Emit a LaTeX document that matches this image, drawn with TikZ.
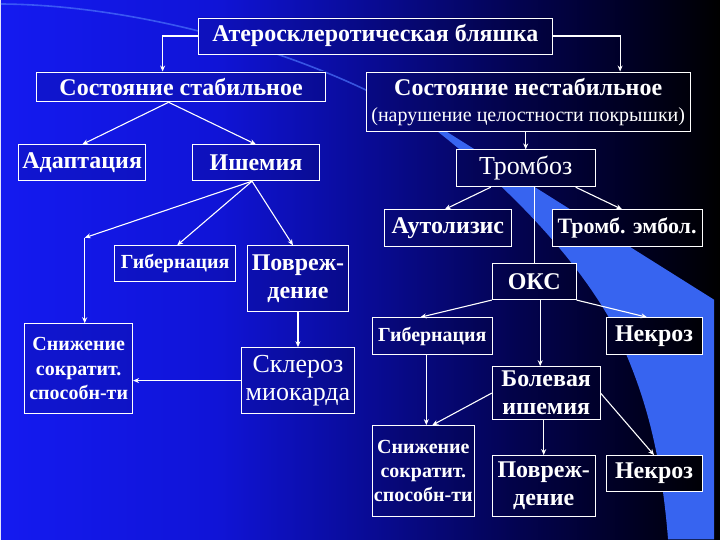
\documentclass[tikz,border=0pt]{standalone}
\usepackage{fontspec}
\setmainfont{Liberation Serif}
\usetikzlibrary{arrows.meta,shapes}
\definecolor{slideA}{RGB}{20,26,240}
\definecolor{slideB}{RGB}{16,20,215}
\definecolor{slideC}{RGB}{8,10,140}
\definecolor{slideD}{RGB}{3,3,80}
\definecolor{slideE}{RGB}{0,0,35}
\definecolor{band}{RGB}{55,100,240}
\definecolor{arcline}{RGB}{75,115,250}
\pgfdeclarehorizontalshading{slide}{100bp}{color(0bp)=(slideA); color(25bp)=(slideA); color(40bp)=(slideB); color(52bp)=(slideC); color(61bp)=(slideD); color(69bp)=(slideE); color(75bp)=(black); color(100bp)=(black)}
\tikzset{
    box/.style = {draw=white, line width=0.8pt, text=white, align=center, inner sep=0pt,
        font=\bfseries\fontsize{24}{28}\selectfont,
        path picture={\shade[shading=slide] (slide sw) rectangle (slide ne);
            \fill[black, opacity=.12] (slide sw) rectangle (slide ne);}},
    small/.style = {font=\bfseries\fontsize{20}{24.5}\selectfont},
    light/.style = {font=\mdseries\fontsize{26}{28}\selectfont},
    link/.style = {draw=white, line width=1.1pt, -{Stealth[length=6pt,width=5pt]}},
    plain/.style = {draw=white, line width=1.1pt}
}
\begin{document}
\begin{tikzpicture}[x=1pt,y=-1pt]
    % slide background
    \coordinate (slide sw) at (0,540);
    \coordinate (slide ne) at (720,0);
    \shade[shading=slide] (slide sw) rectangle (slide ne);
    \fill[band] (437,126) -- (714,300) -- (714,540) -- (668,540)
        .. controls (660,440) and (640,380) .. (610,320)
        .. controls (570,250) and (500,180) .. (430,126) -- cycle;
    \draw[arcline, line width=1.6pt, opacity=.7] (0,4) .. controls (150,5) and (330,60) .. (432,127);
    \useasboundingbox (slide sw) rectangle (slide ne);

    \node[box, minimum width=354, minimum height=36] (plaque) at (375,36) {Атеросклеротическая бляшка};
    \node[box, minimum width=289, minimum height=30] (stable) at (180.5,87) {Состояние стабильное};
    \node[box, minimum width=324, minimum height=60] (unstable) at (528,102)
        {Состояние нестабильное\\[-2pt]{\mdseries\fontsize{20}{22}\selectfont(нарушение целостности покрышки)}};
    \node[box, minimum width=127, minimum height=36] (adapt) at (81.5,163) {Адаптация};
    \node[box, minimum width=127, minimum height=36] (isch) at (255.5,163) {Ишемия};
    \node[box, light, minimum width=139, minimum height=37] (tromb) at (525.5,168.5) {Тромбоз};
    \node[box, minimum width=127, minimum height=37] (autol) at (447.5,228.5) {Аутолизис};
    \node[box, font=\bfseries\fontsize{22}{26}\selectfont, minimum width=150, minimum height=37] (embol) at (627,228.5) {Тромб. эмбол.};
    \node[box, small, minimum width=121, minimum height=36] (hibL) at (174.5,264) {Гибернация};
    \node[box, minimum width=101, minimum height=66] (damL) at (297.5,279) {Повреж-\\дение};
    \node[box, minimum width=84, minimum height=36] (oks) at (534,282) {ОКС};
    \node[box, small, minimum width=120, minimum height=37] (hibR) at (432,336.5) {Гибернация};
    \node[box, minimum width=96, minimum height=37] (necA) at (654,336.5) {Некроз};
    \node[box, small, minimum width=108, minimum height=90] (redL) at (78,369) {Снижение\\сократит.\\способн-ти};
    \node[box, light, minimum width=113, minimum height=66] (scler) at (297.5,381) {Склероз\\миокарда};
    \node[box, minimum width=108, minimum height=53] (pain) at (546,393.5) {Болевая\\ишемия};
    \node[box, small, minimum width=102, minimum height=91] (redR) at (423,471.5) {Снижение\\сократит.\\способн-ти};
    \node[box, minimum width=103, minimum height=61] (damR) at (543.5,486.5) {Повреж-\\дение};
    \node[box, minimum width=96, minimum height=36] (necB) at (654,474) {Некроз};

    % left branch
    \draw[link] (plaque.west) -| ([xshift=-18.5]stable.north);
    \coordinate (stable fork) at ([xshift=-12.5]stable.south);
    \draw[link] (stable fork) -- (adapt.north);
    \draw[link] (stable fork) -- (isch.north);
    \coordinate (isch fork) at ([xshift=-4]isch.south);
    \coordinate (isch bend) at (84,238);
    \draw[link] (isch fork) -- (isch bend);
    \draw[link] (isch bend) -- (isch bend |- redL.north);
    \draw[link] (isch fork) -- ([xshift=2]hibL.north);
    \draw[link] (isch fork) -- ([xshift=-5]damL.north);
    \draw[link] (damL.south) -- (scler.north);
    \draw[link] (scler.west) -- (scler.west -| redL.east);

    % right branch
    \draw[link] (plaque.east) -| ([xshift=92]unstable.north);
    \draw[link] (tromb.north |- unstable.south) -- (tromb.north);
    \draw[link] ([xshift=-35]tromb.south) -- ([xshift=-3]autol.north);
    \draw[link] ([xshift=50]tromb.south) -- ([xshift=-5]embol.north);
    \draw[plain] (oks.north |- tromb.south) -- (oks.north);
    \draw[link] (oks.south west) -- ([xshift=-12]hibR.north);
    \draw[link] (oks.south east) -- ([xshift=-7]necA.north);
    \draw[link] ([xshift=6]oks.south) -- ([xshift=-6]pain.north);
    \draw[link] ([xshift=-6]hibR.south) -- ([xshift=3]redR.north);
    \draw[link] (pain.west) -- ([xshift=9]redR.north);
    \draw[link] (damR.north |- pain.south) -- (damR.north);
    \draw[link] (pain.east) -- (necB.north);
\end{tikzpicture}
\end{document}
